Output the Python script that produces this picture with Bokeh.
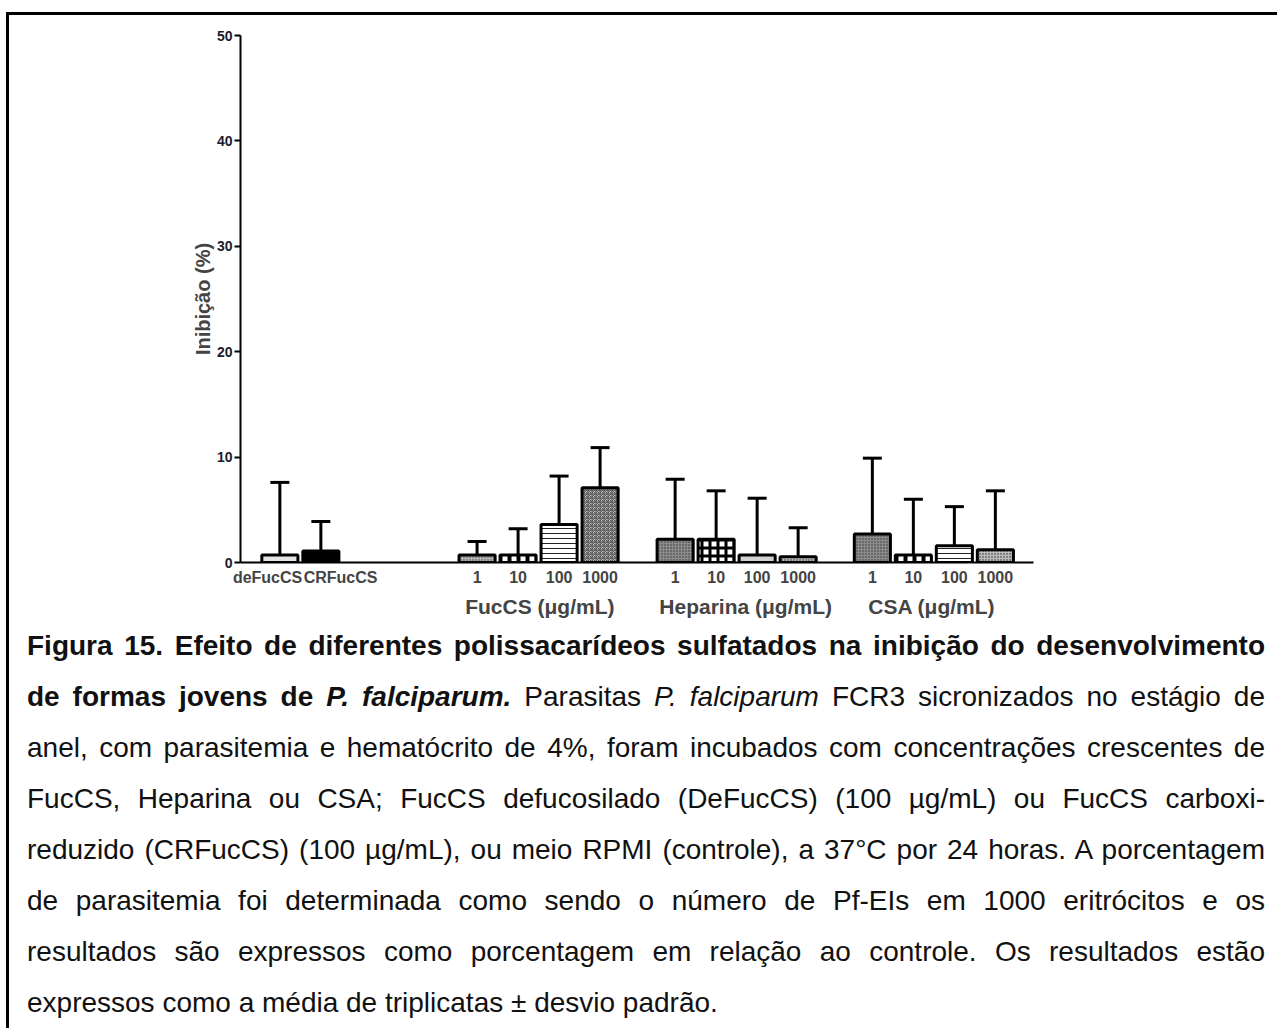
from bokeh.plotting import figure
from bokeh.models import (ColumnDataSource, Range1d, LinearAxis, FixedTicker,
                          Whisker, TeeHead, Div)
from bokeh.layouts import column
from bokeh.embed import file_html
from bokeh.resources import INLINE

# ---- data: mean inhibition (%) and standard deviation (triplicates) ----
controls = ["deFucCS", "CRFucCS"]
control_mean = [0.7, 1.1]
control_sd = [6.9, 2.8]

doses = ["1", "10", "100", "1000"]
groups = ["FucCS (\u03bcg/mL)", "Heparina (\u03bcg/mL)", "CSA (\u03bcg/mL)"]
fuccs_mean = [0.7, 0.7, 3.6, 7.1]
fuccs_sd = [1.3, 2.5, 4.6, 3.8]
hep_mean = [2.2, 2.2, 0.7, 0.55]
hep_sd = [5.7, 4.6, 5.4, 2.75]
csa_mean = [2.7, 0.7, 1.6, 1.2]
csa_sd = [7.2, 5.3, 3.7, 5.6]

y_ticks = [0, 10, 20, 30, 40, 50]

# ---- layout of the bars along the x axis (one slot per bar) ----
control_x = [0.96, 1.96]
control_label_x = [0.66, 2.44]
group_start = [5.77, 10.6, 15.41]
group_label_x = [7.3, 12.32, 16.86]
bar_width = 0.88

# fill / hatch styles per bar: (fill, hatch, hatch colour, scale, weight)
control_styles = [("#e4e4e4", " ", "#000", 4, 1),
                  ("#000000", " ", "#000", 4, 1)]
dose_styles = {
    0: [("#b4b4b4", "dot", "#444", 3, 1),
        ("#ffffff", "vertical_line", "#000", 9, 4),
        ("#ffffff", "horizontal_line", "#222", 5, 1),
        ("#bdbdbd", "criss_cross", "#555", 4, 1)],
    1: [("#8c8c8c", "dot", "#333", 3, 1),
        ("#ffffff", "cross", "#000", 8, 3),
        ("#d2d2d2", " ", "#000", 4, 1),
        ("#bdbdbd", "dot", "#222", 3, 1)],
    2: [("#8c8c8c", "dot", "#333", 3, 1),
        ("#ffffff", "vertical_line", "#000", 9, 4),
        ("#ffffff", "horizontal_line", "#222", 5, 1),
        ("#bdbdbd", "dot", "#222", 3, 1)],
}

xs, means, sds = [], [], []
fills, hatches, hcolors, hscales, hweights = [], [], [], [], []
for i in range(2):
    xs.append(control_x[i])
    means.append(control_mean[i])
    sds.append(control_sd[i])
    f, h, hc, hs, hw = control_styles[i]
    fills.append(f); hatches.append(h); hcolors.append(hc); hscales.append(hs); hweights.append(hw)

tick_pos = list(control_label_x)
tick_lab = list(controls)
for g, (m, s) in enumerate([(fuccs_mean, fuccs_sd), (hep_mean, hep_sd), (csa_mean, csa_sd)]):
    for j in range(len(doses)):
        x = round(group_start[g] + j, 3)
        xs.append(x)
        means.append(m[j])
        sds.append(s[j])
        tick_pos.append(x)
        tick_lab.append(doses[j])
        f, h, hc, hs, hw = dose_styles[g][j]
        fills.append(f); hatches.append(h); hcolors.append(hc); hscales.append(hs); hweights.append(hw)

tops = [m + s for m, s in zip(means, sds)]
src = ColumnDataSource(dict(x=xs, mean=means, top=tops, fill=fills, hatch=hatches,
                            hcolor=hcolors, hscale=hscales, hweight=hweights))

FONT = "Liberation Sans"

p = figure(frame_width=793, frame_height=527, x_range=Range1d(0, 19.34),
           y_range=Range1d(0, 50), output_backend="svg", toolbar_location=None,
           min_border_left=231, min_border_right=251, min_border_top=20,
           min_border_bottom=46)
p.grid.visible = False
p.outline_line_color = None
p.background_fill_color = "white"
p.border_fill_color = "white"

# error bars (upper only)
whisk = Whisker(source=src, base="x", lower="mean", upper="top", dimension="height",
                line_width=3, line_color="black",
                upper_head=TeeHead(size=19, line_width=3, line_color="black"),
                lower_head=None)
p.add_layout(whisk)

p.vbar(x="x", top="mean", bottom=0, width=bar_width, source=src,
       fill_color="fill", line_color="black", line_width=3,
       hatch_pattern="hatch", hatch_color="hcolor", hatch_scale="hscale",
       hatch_weight="hweight")

# y axis
ya = p.yaxis[0]
ya.ticker = FixedTicker(ticks=y_ticks)
ya.axis_label = "Inibição (%)"
ya.axis_label_text_font = FONT
ya.axis_label_text_font_style = "bold"
ya.axis_label_text_font_size = "20px"
ya.axis_label_standoff = 0
ya.major_label_text_font = FONT
ya.major_label_text_font_style = "bold"
ya.major_label_text_font_size = "14px"
ya.major_label_text_color = "#1b1b2b"
ya.major_label_standoff = 2
ya.axis_line_width = 2
ya.major_tick_line_width = 2
ya.major_tick_in = 0
ya.major_tick_out = 6
ya.minor_tick_line_color = None

# x axis: dose / treatment labels
xa = p.xaxis[0]
xa.ticker = FixedTicker(ticks=tick_pos)
xa.major_label_overrides = {t: l for t, l in zip(tick_pos, tick_lab)}
xa.major_label_text_font = FONT
xa.major_label_text_font_style = "bold"
xa.major_label_text_font_size = "16px"
xa.major_label_standoff = 0
xa.axis_line_width = 2
xa.major_tick_line_color = None
xa.minor_tick_line_color = None

# second row of x labels: compound names
xg = LinearAxis(ticker=FixedTicker(ticks=group_label_x),
                major_label_overrides={t: l for t, l in zip(group_label_x, groups)},
                axis_line_color=None, major_tick_line_color=None,
                minor_tick_line_color=None, major_label_text_font=FONT,
                major_label_text_font_style="bold", major_label_text_font_size="21px",
                major_label_standoff=0)
p.add_layout(xg, "below")

# ---- caption ----
lines = [
    "<b>Figura 15. Efeito de diferentes polissacarídeos sulfatados na inibição do desenvolvimento</b>",
    "<b>de formas jovens de <i>P. falciparum.</i></b> Parasitas <i>P. falciparum</i> FCR3 sicronizados no estágio de",
    "anel, com parasitemia e hematócrito de 4%, foram incubados com concentrações crescentes de",
    "FucCS, Heparina ou CSA; FucCS defucosilado (DeFucCS) (100 µg/mL) ou FucCS carboxi-",
    "reduzido (CRFucCS) (100 µg/mL), ou meio RPMI (controle), a 37°C por 24 horas. A porcentagem",
    "de parasitemia foi determinada como sendo o número de Pf-EIs em 1000 eritrócitos e os",
    "resultados são expressos como porcentagem em relação ao controle. Os resultados estão",
    "expressos como a média de triplicatas ± desvio padrão.",
]
html = ['<div style="width:1238px;">']
for k, ln in enumerate(lines):
    last = "left" if k == len(lines) - 1 else "justify"
    html.append(f'<div style="width:1238px;text-align:justify;text-align-last:{last};white-space:nowrap;">{ln}</div>')
html.append("</div>")
cap = Div(text="".join(html), width=1240, margin=(0, 0, 0, 18),
          styles={"font-family": FONT, "font-size": "28px", "line-height": "51px",
                  "color": "#111"})

layout = column(p, cap, margin=(12, 0, 0, 6),
                styles={"border-top": "3px solid #000", "border-left": "3px solid #000",
                        "background-color": "white"})

open("out.html", "w").write(file_html(layout, INLINE))
